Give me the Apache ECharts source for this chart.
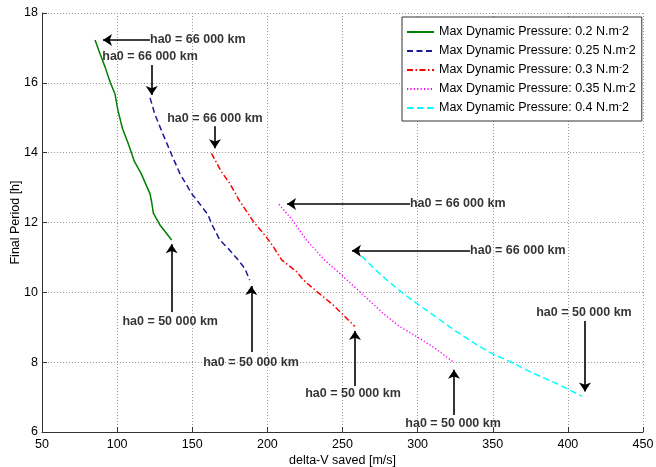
<!DOCTYPE html>
<html>
<head>
<meta charset="utf-8">
<script src="https://cdn.jsdelivr.net/npm/echarts@6/dist/echarts.min.js"></script>
<style>
  html, body { margin: 0; padding: 0; background: #fff; }
  #chart { width: 656px; height: 467px; }
</style>
</head>
<body>
<div id="chart"></div>
<script>
// delta-V saved [m/s] and final period [h], one pair of arrays per dynamic-pressure limit
const q020_dv = [85.3, 88.5, 92.0, 95.5, 98.6, 100.5, 103.5, 107.5, 111.5, 116.0, 121.9, 123.0, 124.1, 128.5, 136.3];
const q020_T  = [17.23, 16.85, 16.45, 16.0, 15.68, 15.22, 14.7, 14.25, 13.75, 13.4, 12.82, 12.58, 12.27, 11.93, 11.5];

const q025_dv = [121.9, 125.2, 130.7, 136.3, 141.8, 149.4, 154.5, 160.5, 162.7, 168.3, 173.8, 180.5, 184.9, 188.2];
const q025_T  = [15.57, 15.09, 14.51, 13.94, 13.40, 12.84, 12.56, 12.22, 11.98, 11.50, 11.26, 10.93, 10.69, 10.35];

const q030_dv = [162.8, 169.3, 174.5, 181.5, 187.1, 190.8, 199.0, 204.0, 209.5, 219.5, 224.0, 233.0, 244.0, 251.0, 258.3];
const q030_T  = [13.98, 13.46, 13.15, 12.62, 12.26, 12.02, 11.60, 11.30, 10.93, 10.59, 10.35, 10.02, 9.63, 9.33, 9.02];

const q035_dv = [207.7, 215.5, 226.0, 237.5, 250.5, 265.0, 277.0, 288.0, 299.5, 310.5, 323.7];
const q035_T  = [12.52, 12.13, 11.50, 10.95, 10.45, 9.88, 9.40, 9.02, 8.73, 8.43, 8.01];

const q040_dv = [257.4, 263.0, 271.8, 280.7, 290.0, 299.4, 310.4, 326.0, 339.3, 349.3, 363.7, 377.0, 392.5, 409.2];
const q040_T  = [11.22, 11.03, 10.65, 10.31, 9.98, 9.68, 9.35, 8.87, 8.50, 8.25, 7.97, 7.68, 7.39, 7.03];

const seriesNames = [
  'Max Dynamic Pressure: 0.2 N.m-2',
  'Max Dynamic Pressure: 0.25 N.m-2',
  'Max Dynamic Pressure: 0.3 N.m-2',
  'Max Dynamic Pressure: 0.35 N.m-2',
  'Max Dynamic Pressure: 0.4 N.m-2'
];

// Axis ticks
const xTicks = [50, 100, 150, 200, 250, 300, 350, 400, 450];
const yTicks = [6, 8, 10, 12, 14, 16, 18];

// Apogee-altitude annotations: text, text anchor, arrow tail, arrow tip (data units)
const noteText = [
  'ha0 = 66 000 km', 'ha0 = 66 000 km', 'ha0 = 66 000 km', 'ha0 = 66 000 km', 'ha0 = 66 000 km',
  'ha0 = 50 000 km', 'ha0 = 50 000 km', 'ha0 = 50 000 km', 'ha0 = 50 000 km', 'ha0 = 50 000 km'
];
const noteAt = [
  [121.9, 17.23], [121.9, 16.74], [165.1, 14.99], [294.9, 12.53], [334.9, 11.19],
  [135.3, 9.15], [189.1, 8.00], [257.0, 7.09], [323.6, 6.23], [410.7, 9.41]
];
const arrowFrom = [
  [121.9, 17.23], [123.0, 16.51], [165.1, 14.76], [294.9, 12.53], [334.9, 11.19],
  [136.3, 9.44], [189.3, 8.29], [258.3, 7.32], [324.2, 6.49], [411.4, 9.18]
];
const arrowTo = [
  [90.6, 17.23], [123.0, 15.65], [165.1, 14.13], [213.1, 12.53], [256.3, 11.19],
  [136.3, 11.38], [189.3, 10.18], [258.3, 8.89], [324.2, 7.78], [411.4, 7.16]
];

const FONT = '"Liberation Sans", Arial, Helvetica, sans-serif';

const pairs = (xs, ys) => xs.map((x, i) => [x, ys[i]]);

const curveStyles = [
  { color: '#008000', type: 'solid' },
  { color: '#1a1a99', type: [6, 3.5] },
  { color: '#ff0000', type: [6, 2.5, 1.5, 2.5] },
  { color: '#ff00ff', type: [1.2, 2.2] },
  { color: '#00ffff', type: [6.5, 3.5] }
];
const curveData = [
  pairs(q020_dv, q020_T), pairs(q025_dv, q025_T), pairs(q030_dv, q030_T),
  pairs(q035_dv, q035_T), pairs(q040_dv, q040_T)
];

const curves = curveData.map((d, i) => ({
  name: seriesNames[i],
  type: 'line',
  data: d,
  symbol: 'none',
  showSymbol: false,
  animation: false,
  color: curveStyles[i].color,
  lineStyle: { color: curveStyles[i].color, width: 1.5, type: curveStyles[i].type },
  z: 3
}));

// Arrows drawn as mark lines in data coordinates
const arrows = {
  name: 'arrows',
  type: 'line',
  data: [],
  silent: true,
  animation: false,
  markLine: {
    silent: true,
    animation: false,
    symbol: ['none', 'arrow'],
    symbolSize: 9,
    label: { show: false },
    lineStyle: { color: '#000', width: 1.6, type: 'solid' },
    emphasis: { disabled: true },
    data: arrowFrom.map((p, i) => [{ coord: p }, { coord: arrowTo[i] }])
  },
  z: 4
};

// Annotation text; left-aligned when the arrow runs horizontally
const notes = {
  name: 'notes',
  type: 'scatter',
  symbolSize: 0,
  silent: true,
  animation: false,
  data: noteAt.map((p, i) => {
    const horizontal = arrowFrom[i][1] === arrowTo[i][1];
    return {
      value: p,
      label: {
        show: true,
        position: 'inside',
        formatter: noteText[i],
        align: horizontal ? 'left' : 'center',
        verticalAlign: 'middle',
        fontFamily: FONT,
        fontWeight: 'bold',
        fontSize: 12.5,
        color: '#000',
        textBorderWidth: 0
      }
    };
  }),
  z: 5
};

const chart = echarts.init(document.getElementById('chart'), null, { renderer: 'canvas' });
chart.setOption({
  backgroundColor: '#fff',
  animation: false,
  textStyle: { fontFamily: FONT },
  grid: { left: 42, right: 13, top: 13, bottom: 35, containLabel: false, outerBoundsMode: 'none' },
  legend: {
    data: seriesNames,
    orient: 'vertical',
    left: 402,
    top: 17,
    backgroundColor: '#fff',
    borderColor: '#333',
    borderWidth: 1,
    borderRadius: 0,
    padding: [8, 6, 6, 4],
    itemWidth: 27,
    itemHeight: 14,
    itemGap: 5,
    selectedMode: false,
    itemStyle: { opacity: 0 },
    formatter: name => name.replace('m-2', 'm{sup|-}2'),
    textStyle: {
      fontFamily: FONT,
      fontSize: 12.5,
      color: '#000',
      lineHeight: 14,
      rich: {
        sup: { fontFamily: FONT, fontSize: 9, color: '#000', verticalAlign: 'top', lineHeight: 14 }
      }
    }
  },
  xAxis: {
    type: 'value',
    min: xTicks[0],
    max: xTicks[xTicks.length - 1],
    interval: xTicks[1] - xTicks[0],
    name: 'delta-V saved [m/s]',
    nameLocation: 'middle',
    nameGap: 22,
    nameMoveOverlap: false,
    nameTextStyle: { fontFamily: FONT, fontSize: 12.5, color: '#000' },
    axisLine: { show: true, onZero: false, lineStyle: { color: '#333', width: 1 } },
    axisTick: { show: true, inside: true, length: 5, lineStyle: { color: '#333' } },
    axisLabel: { fontFamily: FONT, fontSize: 12.5, color: '#000', margin: 6 },
    splitLine: { show: true, lineStyle: { color: '#9a9a9a', width: 1, type: [1, 2] } }
  },
  yAxis: {
    type: 'value',
    min: yTicks[0],
    max: yTicks[yTicks.length - 1],
    interval: yTicks[1] - yTicks[0],
    name: 'Final Period [h]',
    nameLocation: 'middle',
    nameGap: 20,
    nameMoveOverlap: false,
    nameRotate: 90,
    nameTextStyle: { fontFamily: FONT, fontSize: 12.5, color: '#000' },
    axisLine: { show: true, onZero: false, lineStyle: { color: '#333', width: 1 } },
    axisTick: { show: true, inside: true, length: 5, lineStyle: { color: '#333' } },
    axisLabel: { fontFamily: FONT, fontSize: 12.5, color: '#000', margin: 4 },
    splitLine: { show: true, lineStyle: { color: '#9a9a9a', width: 1, type: [1, 2] } }
  },
  series: curves.concat([arrows, notes])
});
</script>
</body>
</html>
